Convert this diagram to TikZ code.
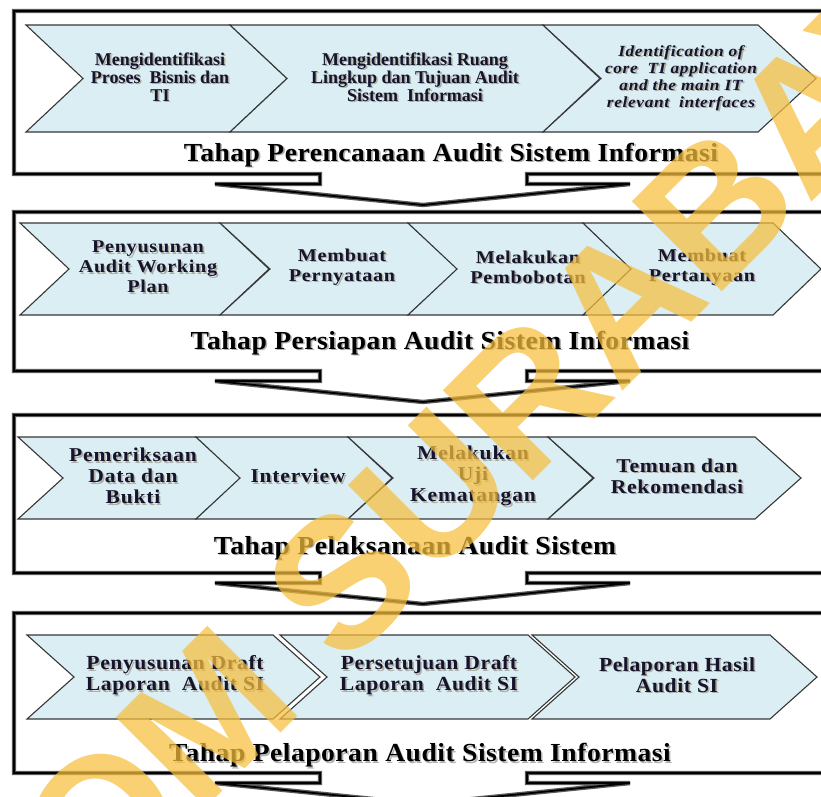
\documentclass[tikz,border=0pt]{standalone}
\usepackage{fontspec}
\setmainfont{Liberation Serif}
\newfontfamily\wmfont{Liberation Sans}
\newfontfamily\fItal[FakeStretch=1.12,LetterSpace=4]{Liberation Serif}
\newfontfamily\fBB[FakeStretch=1.12,LetterSpace=4]{Liberation Serif}
\newfontfamily\fCC[FakeStretch=1.10,LetterSpace=4]{Liberation Serif}
\newfontfamily\fDD[FakeStretch=1.08,LetterSpace=3]{Liberation Serif}
\newfontfamily\fTT[FakeStretch=1.06,LetterSpace=2]{Liberation Serif}
\usetikzlibrary{calc}
\definecolor{chevfill}{RGB}{218,238,243}
\definecolor{chevline}{RGB}{55,55,55}
\definecolor{txtc}{RGB}{22,20,45}
\definecolor{shadc}{RGB}{120,100,70}
\definecolor{wmc}{RGB}{247,190,60}
\tikzset{
  chevbox/.style={fill=chevfill, draw=chevline, line width=1.1, line join=miter},
  frameout/.style={draw=black!65, line width=4.4, line join=miter},
  framein/.style={draw=black, line width=1.8, line join=miter},
  lblA/.style={align=center, inner sep=0, text=txtc, font=\fontsize{18}{18}\selectfont\bfseries},
  lblI/.style={align=center, inner sep=0, text=txtc, font=\fItal\fontsize{15.5}{17}\selectfont\bfseries\itshape},
  lblB/.style={align=center, inner sep=0, text=txtc, font=\fBB\fontsize{18}{20}\selectfont\bfseries},
  lblC/.style={align=center, inner sep=0, text=txtc, font=\fCC\fontsize{19.6}{21}\selectfont\bfseries},
  lblD/.style={align=center, inner sep=0, text=txtc, font=\fDD\fontsize{20}{21}\selectfont\bfseries},
  ttl/.style={inner sep=0, text=black, font=\fTT\fontsize{26}{26}\selectfont\bfseries},
  shad/.style={text=shadc, text opacity=0.45},
  ttlshad/.style={text=black, text opacity=0.3}
}
% chevron: xl, xr, top, mid, bot, depth
\newcommand\mychev[6]{\draw[chevbox] (#1,#3) -- (#2,#3) -- ({#2+#6},#4) -- (#2,#5) -- (#1,#5) -- ({#1+#6},#4) -- cycle;}
% frame: top, bot
\newcommand\myframe[2]{%
  \foreach \sty in {frameout,framein}{
  \draw[\sty] (845,#1) -- (14,#1) -- (14,#2) -- (320,#2) -- (320,{#2+10}) -- (215,{#2+10}) -- (423,{#2+31}) -- (630,{#2+10}) -- (527,{#2+10}) -- (527,#2) -- (845,#2);}}
% text with soft shadow: name, x, y, style, shadow style, text
\newcommand\shtext[6]{%
  \node[#4,#5] (#1s) at ({#2+1.6},{#3+1.6}) {#6};
  \node[#4] (#1) at (#2,#3) {#6};}
\begin{document}
\begin{tikzpicture}[x=1pt,y=-1pt]
\useasboundingbox (0,0) rectangle (821,796);
\clip (0,0) rectangle (821,796);
\fill[white] (0,0) rectangle (821,796);
% ---------- Panel 1 ----------
\myframe{11}{174}
\mychev{26}{230}{25}{78.5}{132}{57}
\mychev{230}{543}{25}{78.5}{132}{57}
\mychev{543}{758}{25}{78.5}{132}{58}
\shtext{c11}{160}{77}{lblA}{shad}{Mengidentifikasi\\Proses~ Bisnis dan\\TI}
\shtext{c12}{415}{77}{lblA}{shad}{Mengidentifikasi Ruang\\Lingkup dan Tujuan Audit\\Sistem~ Informasi}
\shtext{c13}{681}{78}{lblI}{shad}{Identification of\\core~ TI application\\and the main IT\\relevant~ interfaces}
\shtext{t1}{451}{155}{ttl}{ttlshad}{Tahap Perencanaan Audit Sistem Informasi}
% ---------- Panel 2 ----------
\myframe{212}{371}
\mychev{20}{220}{223}{269}{315}{49}
\mychev{220}{408}{223}{269}{315}{50}
\mychev{408}{583}{223}{269}{315}{49}
\mychev{583}{773}{223}{269}{315}{48}
\shtext{c21}{148}{267}{lblB}{shad}{Penyusunan\\Audit Working\\Plan}
\shtext{c22}{342}{267}{lblB}{shad}{Membuat\\Pernyataan}
\shtext{c23}{528}{267}{lblB}{shad}{Melakukan\\Pembobotan}
\shtext{c24}{702}{267}{lblB}{shad}{Membuat\\Pertanyaan}
\shtext{t2}{440}{343}{ttl}{ttlshad}{Tahap Persiapan Audit Sistem Informasi}
% ---------- Panel 3 ----------
\myframe{415}{573}
\mychev{18}{196}{437}{478}{519}{45}
\mychev{196}{348}{437}{478}{519}{44}
\mychev{348}{548}{437}{478}{519}{45}
\mychev{548}{755}{437}{478}{519}{46}
\shtext{c31}{133}{476}{lblC}{shad}{Pemeriksaan\\Data dan\\Bukti}
\shtext{c32}{298}{476}{lblC}{shad}{Interview}
\shtext{c33}{473}{476}{lblC}{shad}{Melakukan\\Uji\\Kematangan}
\shtext{c34}{677}{476}{lblC}{shad}{Temuan dan\\Rekomendasi}
\shtext{t3}{415}{548}{ttl}{ttlshad}{Tahap Pelaksanaan Audit Sistem}
% ---------- Panel 4 ----------
\myframe{613}{773}
\mychev{27}{273}{635}{677}{719}{47}
\mychev{280}{528}{635}{677}{719}{47}
\mychev{532}{770}{635}{677}{719}{47}
\shtext{c41}{175}{675}{lblD}{shad}{Penyusunan Draft\\Laporan~ Audit SI}
\shtext{c42}{429}{675}{lblD}{shad}{Persetujuan Draft\\Laporan~ Audit SI}
\shtext{c43}{677}{675}{lblD}{shad}{Pelaporan Hasil\\Audit SI}
\shtext{t4}{420}{755}{ttl}{ttlshad}{Tahap Pelaporan Audit Sistem Informasi}
% ---------- watermark ----------
\node[rotate=45, anchor=base west, inner sep=0, text=wmc, text opacity=0.72,
      font=\wmfont\bfseries\fontsize{185}{185}\selectfont] (wmark) at (-202,1216) {STIKOM SURABAYA};
\end{tikzpicture}
\end{document}
